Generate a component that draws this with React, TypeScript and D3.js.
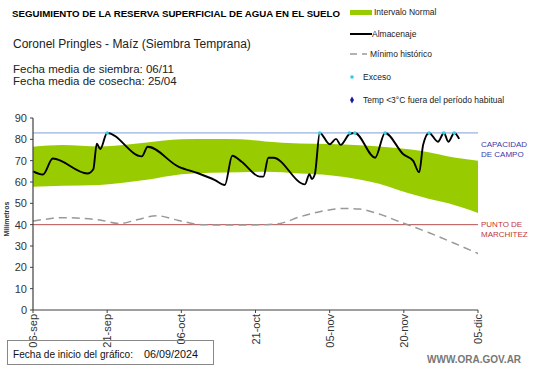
import React from 'react';
import * as d3 from 'd3';

// dias desde el inicio del grafico (06/09/2024)
const startDate = new Date(2024, 8, 6);
const tickDays = [0, 15, 30, 45, 60, 75, 90];
const tickLabels = ['06-sep', '21-sep', '06-oct', '21-oct', '05-nov', '20-nov', '05-dic'];
const yTicks = [0, 10, 20, 30, 40, 50, 60, 70, 80, 90];

const bandDays = [0, 6, 13.5, 23, 30, 36, 42, 47, 54, 60, 66, 70, 76, 80, 84, 90];
const bandHigh = [76.5, 77.3, 76.6, 78.5, 80, 80.2, 80, 79, 78, 77.8, 77.2, 76.6, 75.3, 74, 72, 70];
const bandLow = [57.8, 58.2, 58.6, 61, 63.6, 64.3, 64.6, 64.8, 64, 63.2, 61.2, 59.2, 54.7, 52.2, 50, 45.5];

const almDays = [0, 2, 4, 11, 12.2, 12.9, 13.6, 15, 22, 23.2, 29.4, 33.4, 36.8, 38.8, 40.3, 42.2, 45.9, 46.6, 47.6, 48.6, 55, 55.9, 56.4, 57, 58, 60, 61.3, 62.2, 64, 65.1, 69.2, 71.2, 74.9, 76.9, 78.1, 78.9, 80.1, 81.9, 83.1, 84, 85.2, 86.2];
const almValues = [65, 63.5, 71, 64, 66, 78, 75.5, 83, 72, 76.5, 67.2, 64.1, 60.9, 58.6, 72.3, 69.5, 62.5, 62.5, 71.4, 71.4, 58.9, 63.6, 61.4, 63.6, 83, 77.7, 80.2, 77.4, 82.4, 83, 71.4, 83, 73, 69.9, 64.5, 77.4, 83, 78.9, 83, 78.9, 83, 80.2];

const excesoDays = [15, 58, 64, 65.1, 71.2, 80.1, 83.1, 85.2];
const excesoValue = 83;

const minDays = [0, 3, 5.5, 9.5, 13.5, 17.5, 21, 25, 29.4, 34, 40, 47, 50, 54, 58, 63, 66, 70, 74, 80, 86, 90];
const minValues = [41.7, 42.7, 43.3, 43, 42.2, 40.5, 42.3, 44.2, 42, 40, 39.8, 40, 40.6, 43.7, 46.1, 47.6, 47.3, 45, 41.5, 36.3, 30.5, 26.5];

const capacidadCampo = 83;
const puntoMarchitez = 40;

const width = 541;
const height = 368;
const plotLeft = 33;
const plotRight = 478;
const plotTop = 118;
const plotBottom = 310;

const day = (d: number) => startDate.getTime() + d * 86400000;

const App = () => {
  const x = d3.scaleTime()
    .domain([startDate, new Date(day(90))])
    .range([plotLeft, plotRight]);
  const y = d3.scaleLinear().domain([0, 90]).range([plotBottom, plotTop]);
  const xd = (d: number) => x(new Date(day(d)));

  const band = d3.area<number>()
    .x((d) => xd(bandDays[d]))
    .y0((d) => y(bandLow[d]))
    .y1((d) => y(bandHigh[d]))
    .curve(d3.curveMonotoneX);

  const alm = d3.line<number>()
    .x((d) => xd(almDays[d]))
    .y((d) => y(almValues[d]))
    .curve(d3.curveMonotoneX);

  const minLine = d3.line<number>()
    .x((d) => xd(minDays[d]))
    .y((d) => y(minValues[d]))
    .curve(d3.curveMonotoneX);

  const axisColor = '#404040';
  const font = 'Liberation Sans, Arial';
  const legendFont = { fontFamily: font, fontSize: 8.5, fill: '#222' };

  return (
    <svg width={width} height={height} style={{ position: 'absolute', left: 0, top: 0, background: '#fff' }}>
      <text x={12} y={17} textLength={328} lengthAdjust="spacingAndGlyphs" style={{ fontFamily: font, fontSize: 9.6, fontWeight: 'bold' }}>
        SEGUIMIENTO DE LA RESERVA SUPERFICIAL DE AGUA EN EL SUELO
      </text>
      <text x={13} y={48} style={{ fontFamily: font, fontSize: 12, fill: '#222' }}>
        Coronel Pringles - Maíz (Siembra Temprana)
      </text>
      <text x={13} y={73} style={{ fontFamily: font, fontSize: 11.5, fill: '#222' }}>
        Fecha media de siembra: 06/11
      </text>
      <text x={13} y={85} style={{ fontFamily: font, fontSize: 11.5, fill: '#222' }}>
        Fecha media de cosecha: 25/04
      </text>

      {/* leyenda */}
      <rect x={350} y={10} width={22} height={5} fill="#99cc00" />
      <text x={374} y={15} style={legendFont}>Intervalo Normal</text>
      <line x1={350} x2={372} y1={34} y2={34} stroke="#000" strokeWidth={2} />
      <text x={372} y={37} style={legendFont}>Almacenaje</text>
      <line x1={350} x2={357} y1={54} y2={54} stroke="#999" strokeWidth={1.5} />
      <line x1={362} x2={367} y1={54} y2={54} stroke="#999" strokeWidth={1.5} />
      <text x={370} y={57} style={legendFont}>Mínimo histórico</text>
      <circle cx={352} cy={77} r={1.8} fill="#33ccee" />
      <text x={363} y={80} style={legendFont}>Exceso</text>
      <path d={d3.symbol(d3.symbolDiamond, 14)() || ''} transform="translate(352,100)" fill="#1a1aa0" />
      <text x={363} y={103} style={legendFont}>Temp &lt;3°C fuera del período habitual</text>

      {/* area normal */}
      <path d={band(d3.range(bandDays.length)) || ''} fill="#99cc00" />

      {/* referencias */}
      <line x1={plotLeft} x2={plotRight} y1={y(capacidadCampo)} y2={y(capacidadCampo)} stroke="#7f9fd8" strokeWidth={1} />
      <line x1={plotLeft} x2={plotRight} y1={y(puntoMarchitez)} y2={y(puntoMarchitez)} stroke="#b85050" strokeWidth={1} />
      <text x={481} y={147} style={{ fontFamily: font, fontSize: 8, fill: '#3a3aa8' }}>CAPACIDAD</text>
      <text x={481} y={157} style={{ fontFamily: font, fontSize: 8, fill: '#3a3aa8' }}>DE  CAMPO</text>
      <text x={481} y={227} style={{ fontFamily: font, fontSize: 8, fill: '#c03838' }}>PUNTO  DE</text>
      <text x={481} y={237} style={{ fontFamily: font, fontSize: 8, fill: '#c03838' }}>MARCHITEZ</text>

      <path d={minLine(d3.range(minDays.length)) || ''} fill="none" stroke="#999" strokeWidth={1.5} strokeDasharray="8,5" />
      <path d={alm(d3.range(almDays.length)) || ''} fill="none" stroke="#000" strokeWidth={1.9} />
      {excesoDays.map((d, i) => (
        <circle key={i} cx={xd(d)} cy={y(excesoValue)} r={1.8} fill="#33ccee" />
      ))}

      {/* ejes */}
      <line x1={plotLeft} x2={plotLeft} y1={plotTop} y2={plotBottom} stroke={axisColor} strokeWidth={1.2} />
      <line x1={plotLeft} x2={plotRight} y1={plotBottom} y2={plotBottom} stroke={axisColor} strokeWidth={1.2} />
      {yTicks.map((t) => (
        <g key={t}>
          <line x1={plotLeft - 3} x2={plotLeft} y1={y(t)} y2={y(t)} stroke={axisColor} />
          <text x={plotLeft - 6} y={y(t) + 4} textAnchor="end" style={{ fontFamily: font, fontSize: 11, fill: '#333' }}>{t}</text>
        </g>
      ))}
      {tickDays.map((d, i) => (
        <g key={d}>
          <line x1={xd(d)} x2={xd(d)} y1={plotBottom} y2={plotBottom + 3} stroke={axisColor} />
          <text transform={`translate(${xd(d) + 4},${plotBottom + 4}) rotate(-90)`} textAnchor="end" style={{ fontFamily: font, fontSize: 11, fill: '#333' }}>{tickLabels[i]}</text>
        </g>
      ))}
      <text transform="translate(9,219) rotate(-90)" textAnchor="middle" style={{ fontFamily: font, fontSize: 7, fontWeight: 'bold', fill: '#333' }}>Milímetros</text>

      {/* pie */}
      <rect x={7.5} y={340.5} width={206} height={24} fill="none" stroke="#888" />
      <text x={13} y={358} textLength={120} lengthAdjust="spacingAndGlyphs" style={{ fontFamily: font, fontSize: 11, fill: '#111' }}>Fecha de inicio del gráfico:</text>
      <text x={144} y={358} textLength={54} lengthAdjust="spacingAndGlyphs" style={{ fontFamily: font, fontSize: 11, fill: '#111' }}>06/09/2024</text>
      <text x={427} y={363} style={{ fontFamily: font, fontSize: 10, fontWeight: 'bold', fill: '#777' }}>WWW.ORA.GOV.AR</text>
    </svg>
  );
};

export default App;
